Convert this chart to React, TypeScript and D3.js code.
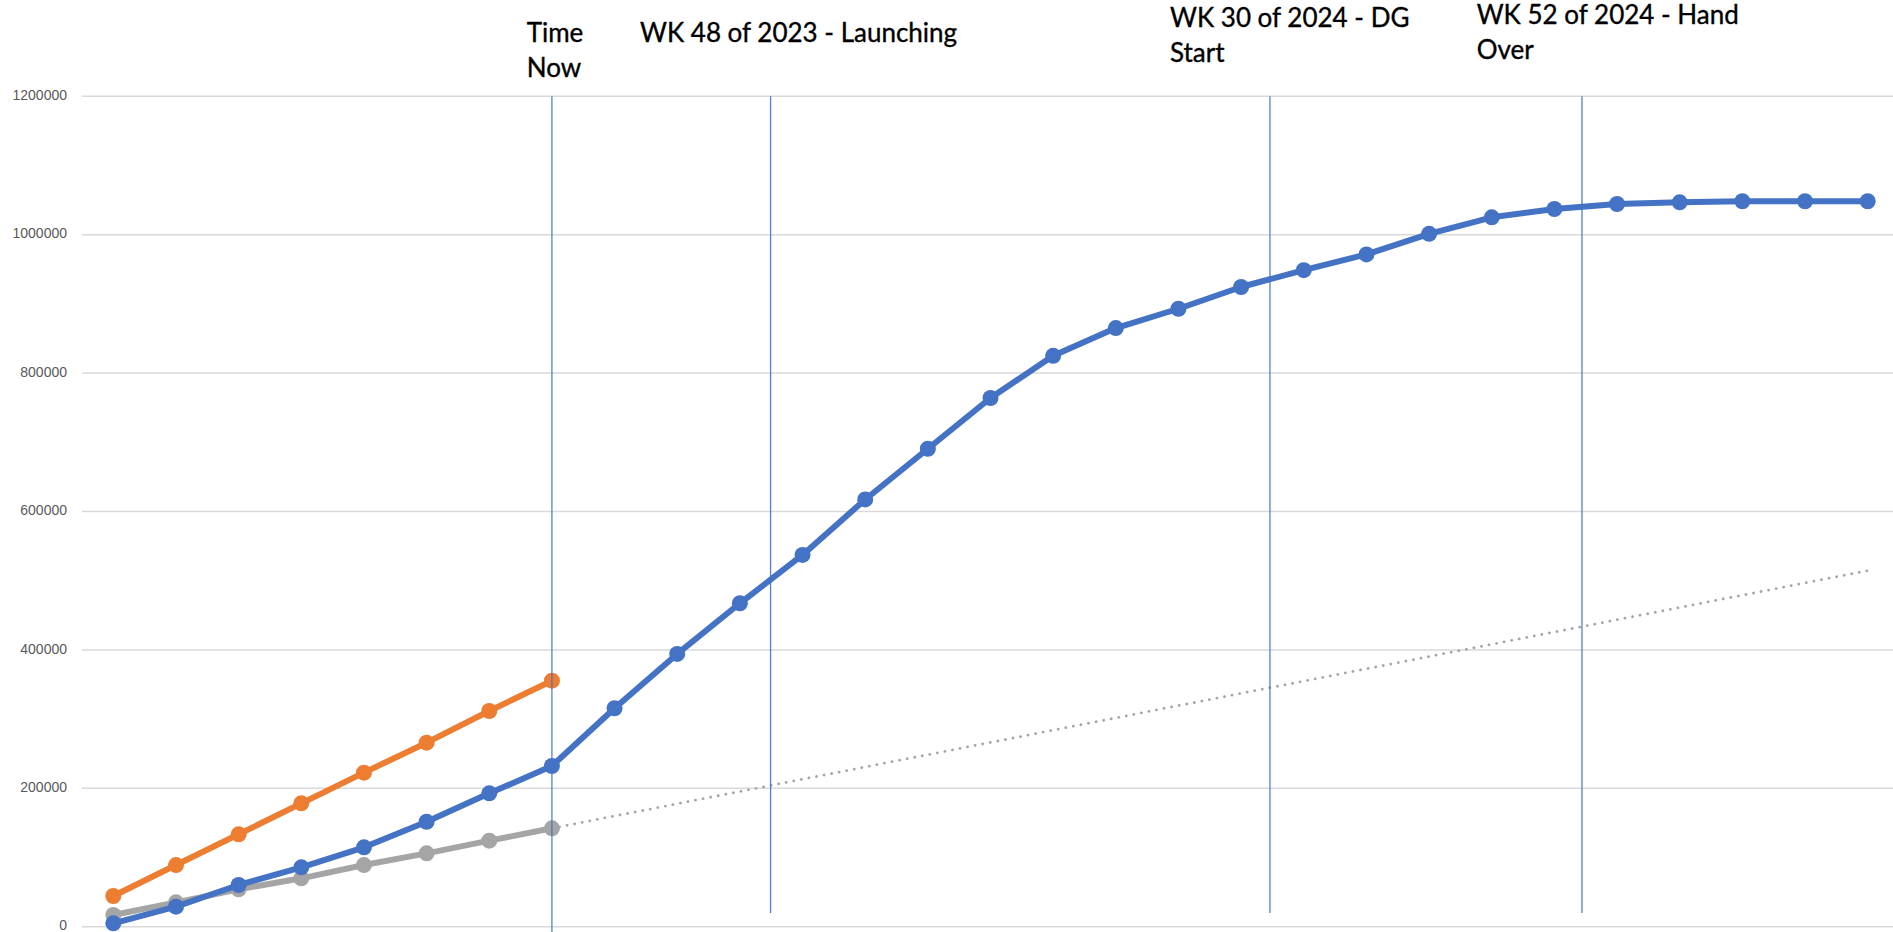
import React from "react";
import * as d3 from "d3";

// ---- data ----
const weeks: number[] = d3.range(29);
const planValues: number[] = [
  4900, 28900, 60300, 85800, 114700, 151700, 192700, 232200, 315700, 394200,
  467400, 537200, 617400, 690700, 764000, 825000, 865100, 893000, 924400, 948800,
  971500, 1001200, 1025100, 1037100, 1044400, 1046800, 1048300, 1048300, 1048300,
];
const targetValues: number[] = [44400, 89100, 133500, 178300, 222600, 265900, 311700, 355500];
const actualValues: number[] = [16900, 35200, 54000, 69900, 89100, 106000, 124300, 142200];
const forecastWeeks: number[] = [7, 28];
const forecastValues: number[] = [142200, 514500];
const yTicks: number[] = [0, 200000, 400000, 600000, 800000, 1000000, 1200000];
const markerWeeks: number[] = [7, 10.49, 18.46, 23.44];
const markerLabels: string[][] = [
  ["Time", "Now"],
  ["WK 48 of 2023 - Launching"],
  ["WK 30 of 2024 - DG", "Start"],
  ["WK 52 of 2024 - Hand", "Over"],
];

// ---- layout ----
const W = 1893;
const H = 932;
const labelLayout = [
  { x: 526.7, y: 41.7, lineBottom: 932 },
  { x: 640, y: 41.7, lineBottom: 913 },
  { x: 1170, y: 26.7, lineBottom: 913 },
  { x: 1476.7, y: 23.5, lineBottom: 913 },
];

export default function App() {
  const x = d3.scaleLinear().domain([-0.5, 28.5]).range([82, 1899]);
  const y = d3.scaleLinear().domain([0, 1200000]).range([926.7, 96.3]);

  const line = d3
    .line<[number, number]>()
    .x((d) => x(d[0]))
    .y((d) => y(d[1]));

  const planPts: [number, number][] = planValues.map((v, i) => [weeks[i], v]);
  const targetPts: [number, number][] = targetValues.map((v, i) => [weeks[i], v]);
  const actualPts: [number, number][] = actualValues.map((v, i) => [weeks[i], v]);
  const forecastPts: [number, number][] = forecastValues.map((v, i) => [forecastWeeks[i], v]);

  const series = [
    { pts: actualPts, color: "#A5A5A5" },
    { pts: planPts, color: "#4472C4" },
    { pts: targetPts, color: "#ED7D31" },
  ];

  return (
    <svg
      width={W}
      height={H}
      style={{ position: "absolute", left: 0, top: 0, background: "#fff" }}
    >
      <rect x={0} y={0} width={W} height={H} fill="#fff" />
      {/* gridlines */}
      {yTicks.map((t) => (
        <g key={t}>
          <line x1={82} x2={W} y1={y(t)} y2={y(t)} stroke="#d9d9d9" strokeWidth={1.5} />
          <text
            x={67}
            y={y(t)}
            textAnchor="end"
            dominantBaseline="middle"
            fontFamily="'Liberation Sans', Arial, sans-serif"
            fontSize={14}
            fill="#595959"
          >
            {t}
          </text>
        </g>
      ))}

      {/* forecast dotted line */}
      <path
        d={line(forecastPts) || ""}
        fill="none"
        stroke="#A5A5A5"
        strokeWidth={2.8}
        strokeDasharray="0.1 7.6"
        strokeLinecap="round"
      />

      {/* series */}
      {series.map((s, si) => (
        <g key={si}>
          <path
            d={line(s.pts) || ""}
            fill="none"
            stroke={s.color}
            strokeWidth={6}
            strokeLinejoin="round"
          />
          {s.pts.map((p, i) => (
            <circle key={i} cx={x(p[0])} cy={y(p[1])} r={8} fill={s.color} />
          ))}
        </g>
      ))}

      {/* vertical markers */}
      {markerWeeks.map((w, i) => (
        <line
          key={i}
          x1={x(w)}
          x2={x(w)}
          y1={96.3}
          y2={labelLayout[i].lineBottom}
          stroke="#4472C4"
          strokeWidth={1.3}
          opacity={0.9}
        />
      ))}

      {/* labels */}
      {markerLabels.map((lines, i) => (
        <text
          key={i}
          x={labelLayout[i].x}
          y={labelLayout[i].y}
          fontFamily="Lato, 'Open Sans', sans-serif"
          fontSize={26}
          fill="#000"
          stroke="#000"
          strokeWidth={0.35}
        >
          {lines.map((l, j) => (
            <tspan key={j} x={labelLayout[i].x} dy={j === 0 ? 0 : 35}>
              {l}
            </tspan>
          ))}
        </text>
      ))}
    </svg>
  );
}
